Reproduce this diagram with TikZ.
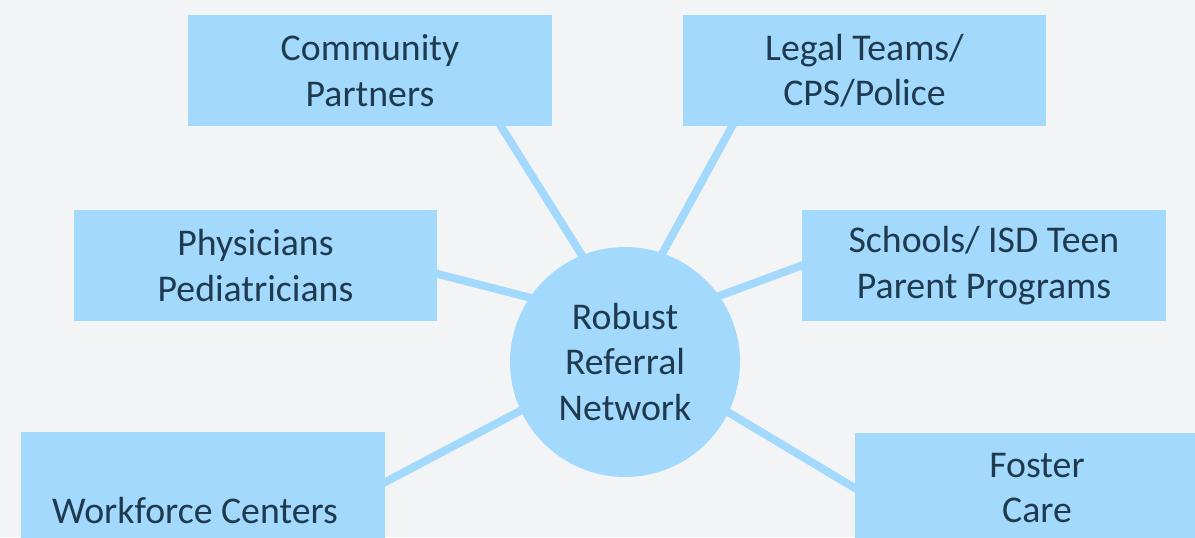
\documentclass[tikz,border=0pt]{standalone}
\usepackage{fontspec}
\setmainfont{Carlito}
\usetikzlibrary{calc}
\definecolor{fond}{HTML}{F3F4F6}
\definecolor{bleu}{HTML}{A2D9FD}
\definecolor{encre}{HTML}{1F3A4E}
\pgfdeclarelayer{fondplan}
\pgfdeclarelayer{liens}
\pgfsetlayers{fondplan,liens,main}

\begin{document}
\begin{tikzpicture}[x=0.02cm,y=-0.02cm,
    boite/.style={rectangle,fill=bleu,text=encre,align=center,
      minimum width=7.28cm,minimum height=2.22cm,inner sep=0pt,
      font=\fontsize{21.5}{25.8}\selectfont},
    lien/.style={draw=bleu,line width=4.5pt,shorten <=-5pt,shorten >=-5pt}]
  \clip (0,0) rectangle (1195,537);
  \begin{pgfonlayer}{fondplan}
    \fill[fond] (0,0) rectangle (1195,537);
  \end{pgfonlayer}

  % Le centre
  \node[circle,fill=bleu,text=encre,align=center,minimum size=4.6cm,inner sep=0pt,
      font=\fontsize{21.5}{25.8}\selectfont] (reseau) at (625,362)
      {Robust\\Referral\\Network};

  % Les partenaires
  \node[boite] (partners) at (370,70.5) {Community\\Partners};
  \node[boite] (legal) at (864.5,70.5) {Legal Teams/\\CPS/Police};
  \node[boite] (physicians) at (255.5,265.5) {Physicians\\Pediatricians};
  \node[boite] (schools) at (984,265.5) {Schools/ ISD Teen\\Parent Programs};
  \node[boite,minimum height=3.16cm] (workforce) at (203,511) {Workforce Centers\hspace{0.32cm}};
  \node[boite] (foster) at (1037,488) {Foster\\Care};

  \begin{pgfonlayer}{liens}
    \draw[lien] (reseau.112) -- ($(partners.south)+(131,0)$);
    \draw[lien] (reseau.71) -- ($(legal.south)+(-132.5,0)$);
    \draw[lien] (reseau.146) -- ($(physicians.east)+(0,8.5)$);
    \draw[lien] (reseau.35.5) -- (schools.west);
    \draw[lien] (reseau.205) -- ($(workforce.east)+(0,-29)$);
    \draw[lien] (reseau.334) -- (foster.west);
  \end{pgfonlayer}
\end{tikzpicture}
\end{document}
